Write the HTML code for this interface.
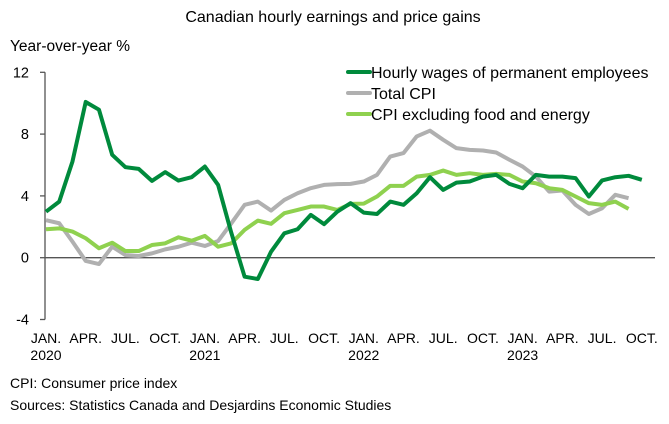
<!DOCTYPE html>
<html><head><meta charset="utf-8"><style>
body{margin:0;background:#fff;}
svg{display:block;font-family:"Liberation Sans",sans-serif;}
</style></head><body>
<svg id="c" width="669" height="424" viewBox="0 0 669 424">
<text x="333" y="22" text-anchor="middle" font-size="16" fill="#000">Canadian hourly earnings and price gains</text>
<text x="10" y="51" font-size="15.5" fill="#000">Year-over-year %</text>
<g id="axes"></g>
<g id="series"></g>
<g id="legend"></g>
<text x="10" y="388" font-size="14" fill="#000">CPI: Consumer price index</text>
<text x="10" y="410" font-size="14" fill="#000">Sources: Statistics Canada and Desjardins Economic Studies</text>
</svg>
<script>
const wages=[2.98,3.63,6.23,10.08,9.58,6.66,5.86,5.75,4.97,5.54,4.99,5.21,5.90,4.71,1.6,-1.23,-1.38,0.39,1.58,1.84,2.77,2.17,2.98,3.53,2.92,2.83,3.63,3.42,4.17,5.21,4.39,4.86,4.93,5.25,5.36,4.78,4.50,5.36,5.25,5.25,5.15,3.96,5.0,5.21,5.30,5.04];
const totalCpi=[2.43,2.23,1.04,-0.21,-0.41,0.71,0.17,0.11,0.28,0.54,0.71,0.97,0.76,1.08,2.23,3.42,3.63,3.05,3.74,4.17,4.50,4.71,4.76,4.78,4.93,5.36,6.55,6.77,7.85,8.22,7.63,7.09,6.98,6.94,6.81,6.34,5.90,5.25,4.28,4.35,3.42,2.83,3.20,4.07,3.85];
const coreCpi=[1.84,1.9,1.69,1.26,0.61,0.97,0.43,0.43,0.82,0.93,1.32,1.1,1.41,0.71,0.93,1.80,2.4,2.19,2.88,3.09,3.31,3.31,3.09,3.48,3.5,3.96,4.65,4.65,5.25,5.36,5.64,5.36,5.47,5.36,5.43,5.36,4.93,4.82,4.50,4.39,3.96,3.53,3.42,3.63,3.16];
const yTicks=[-4,0,4,8,12];
const monthLabels=["JAN.","APR.","JUL.","OCT."];
const years=["2020","2021","2022","2023"];
const seriesNames=["Hourly wages of permanent employees","Total CPI","CPI excluding food and energy"];
const NS="http://www.w3.org/2000/svg";
const x=m=>46+m*13.24;
const y=v=>257.7-v*15.45;
function mk(tag,attrs,parent){const e=document.createElementNS(NS,tag);for(const k in attrs)e.setAttribute(k,attrs[k]);parent.appendChild(e);return e;}
const axes=document.getElementById('axes');
let a=mk('line',{x1:45,x2:45,y1:y(12),y2:y(-4),stroke:'#555','stroke-width':1.3},axes);


yTicks.forEach(t=>{
  let l=mk('line',{x1:40,x2:45,y1:y(t),y2:y(t),stroke:'#555','stroke-width':1.3},axes);
  
  
  let tx=mk('text',{x:29,y:y(t)+5,'text-anchor':'end','font-size':14.5},axes);
  tx.textContent=t;
  
  
});
let z=mk('line',{x1:45,x2:655,y1:y(0),y2:y(0),stroke:'#555','stroke-width':1.3},axes);


for(let m=0;m<46;m+=3){
  let tx=mk('text',{x:x(m),y:343,'text-anchor':'middle','font-size':14},axes);
  tx.textContent=monthLabels[(m/3)%4];
  
  
  if(m%12===0){
    let yr=mk('text',{x:x(m),y:360,'text-anchor':'middle','font-size':14},axes);
    yr.textContent=years[m/12];
    
    
  }
}
const colors=["#008a3c","#b0b0b0","#8fd14f"];
const data=[wages,totalCpi,coreCpi];
const sg=document.getElementById('series');
[1,2,0].forEach(i=>{
  const p=mk('polyline',{points:data[i].map((v,m)=>x(m)+','+y(v)).join(' '),fill:'none',stroke:colors[i],'stroke-width':4,'stroke-linejoin':'round'},sg);
  
  
});
const lg=document.getElementById('legend');
seriesNames.forEach((n,i)=>{
  const yy=72+i*21;
  const l=mk('line',{x1:348,x2:370,y1:yy,y2:yy,stroke:colors[i],'stroke-width':4,'stroke-linecap':'round'},lg);
  
  
  const t=mk('text',{x:371,y:yy+6,'font-size':16},lg);
  t.textContent=n;
  
  
});
</script>
</body></html>
